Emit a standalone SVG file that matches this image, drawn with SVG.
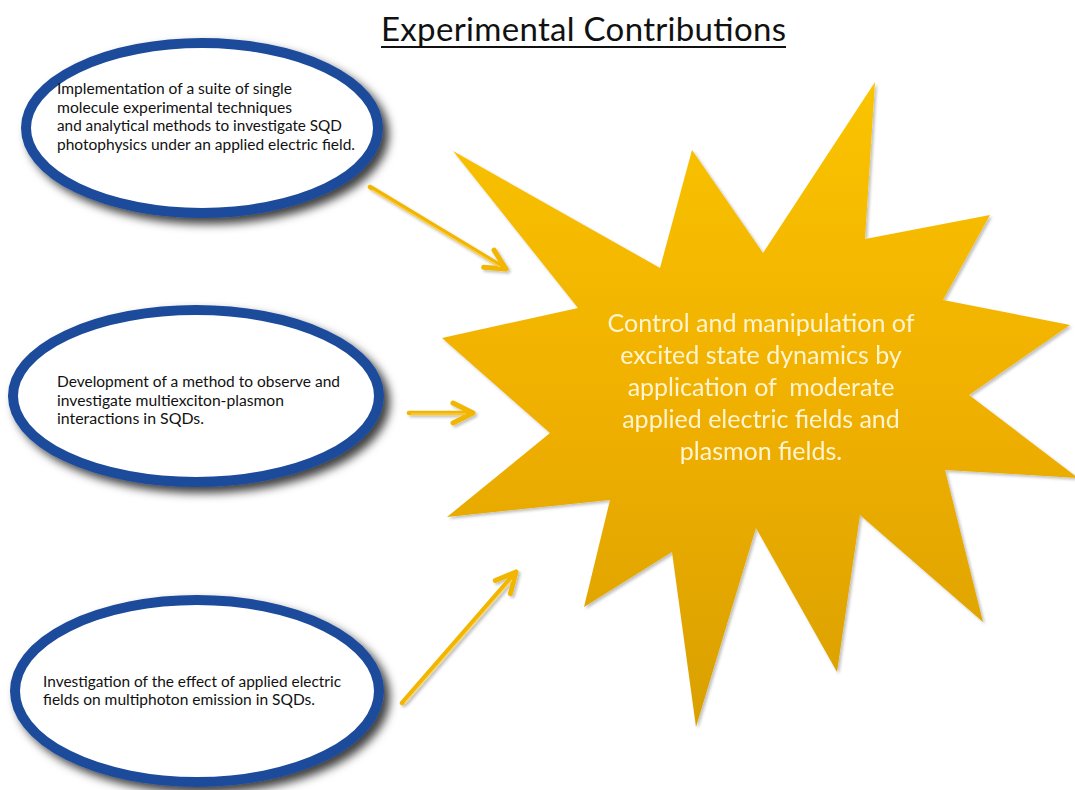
<svg xmlns="http://www.w3.org/2000/svg" width="1075" height="790" viewBox="0 0 1075 790">
  <defs>
    <linearGradient id="burstFill" x1="0" y1="0" x2="0" y2="1">
      <stop offset="0" stop-color="#FAC400"/>
      <stop offset="0.5" stop-color="#F0B000"/>
      <stop offset="1" stop-color="#D9A000"/>
    </linearGradient>
    <filter id="ovalShadow" x="-15%" y="-15%" width="135%" height="140%">
      <feGaussianBlur in="SourceAlpha" stdDeviation="5"/>
      <feOffset dx="6" dy="6" result="blur"/>
      <feFlood flood-color="#000" flood-opacity="0.75"/>
      <feComposite in2="blur" operator="in"/>
      <feMerge><feMergeNode/><feMergeNode in="SourceGraphic"/></feMerge>
    </filter>
    <filter id="softShadow" x="-10%" y="-10%" width="125%" height="125%">
      <feGaussianBlur in="SourceAlpha" stdDeviation="1.5"/>
      <feOffset dx="2" dy="2" result="blur"/>
      <feFlood flood-color="#000" flood-opacity="0.25"/>
      <feComposite in2="blur" operator="in"/>
      <feMerge><feMergeNode/><feMergeNode in="SourceGraphic"/></feMerge>
    </filter>
    <marker id="chevron" markerUnits="userSpaceOnUse" viewBox="-26 -14 30 28" refX="0" refY="0" markerWidth="30" markerHeight="28" orient="auto" overflow="visible">
      <path d="M -20,-10 L 0,0 L -20,10" fill="none" stroke="#F2B600" stroke-width="5" stroke-linecap="round" stroke-linejoin="round"/>
    </marker>
    <style>
      .oval { fill: #FFFFFF; stroke: #1E4B9B; stroke-width: 10; }
      .otext { font-family: Lato, "Open Sans", "Liberation Sans", sans-serif; font-size: 14.5px; fill: #111111; }
      .shaft { fill: none; stroke: #F2B600; stroke-width: 4.5; stroke-linecap: round; }
      .shine { fill: none; stroke: #F9D46A; stroke-width: 1.2; }
      .btext { font-family: Lato, "Open Sans", "Liberation Sans", sans-serif; font-size: 25px; fill: #FFF4D2; text-anchor: middle; }
      .title { font-family: Lato, "Open Sans", "Liberation Sans", sans-serif; font-size: 33px; fill: #111111; text-anchor: middle; }
    </style>
  </defs>

  <rect width="1075" height="790" fill="#FFFFFF"/>

  <!-- heading -->
  <g id="title">
    <text class="title" x="583.5" y="41" textLength="405" lengthAdjust="spacing">Experimental Contributions</text>
    <line x1="381" y1="47" x2="786" y2="47" stroke="#111111" stroke-width="2"/>
  </g>

  <!-- central burst -->
  <g id="burst" filter="url(#softShadow)">
    <polygon fill="url(#burstFill)" points="875,82 865,239 990,215 943,300 1070,325 969,395 1078,478 945,470 983,622 860,515 837,672 756,528 696,727 672,552 584,607 610,500 447,517 550,433 442,338 578,308 453,151 660,268 692,150 763,253"/>
    <text class="btext" x="761" y="332">Control and manipulation of</text>
    <text class="btext" x="761" y="364">excited state dynamics by</text>
    <text class="btext" x="761" y="396" xml:space="preserve">application of  moderate</text>
    <text class="btext" x="761" y="428">applied electric fields and</text>
    <text class="btext" x="761" y="460">plasmon fields.</text>
  </g>

  <!-- contribution ovals -->
  <g id="oval-techniques">
    <ellipse class="oval" cx="202" cy="128" rx="176" ry="85" filter="url(#ovalShadow)"/>
    <text class="otext" x="57" y="94" textLength="235" lengthAdjust="spacingAndGlyphs">Implementation of a suite of single</text>
    <text class="otext" x="57" y="112.5" textLength="235" lengthAdjust="spacingAndGlyphs">molecule experimental techniques</text>
    <text class="otext" x="57" y="131" textLength="285" lengthAdjust="spacingAndGlyphs">and analytical methods to investigate SQD</text>
    <text class="otext" x="57" y="149.5" textLength="298" lengthAdjust="spacingAndGlyphs">photophysics under an applied electric field.</text>
  </g>

  <g id="oval-plasmon">
    <ellipse class="oval" cx="196" cy="396" rx="183" ry="86" filter="url(#ovalShadow)"/>
    <text class="otext" x="57" y="387" textLength="283" lengthAdjust="spacingAndGlyphs">Development of a method to observe and</text>
    <text class="otext" x="57" y="405.5" textLength="227" lengthAdjust="spacingAndGlyphs">investigate multiexciton-plasmon</text>
    <text class="otext" x="57" y="424" textLength="147" lengthAdjust="spacingAndGlyphs">interactions in SQDs.</text>
  </g>

  <g id="oval-multiphoton">
    <ellipse class="oval" cx="197" cy="691" rx="182" ry="91" filter="url(#ovalShadow)"/>
    <text class="otext" x="43" y="686.5" textLength="298" lengthAdjust="spacingAndGlyphs">Investigation of the effect of applied electric</text>
    <text class="otext" x="43" y="704.5" textLength="272" lengthAdjust="spacingAndGlyphs">fields on multiphoton emission in SQDs.</text>
  </g>

  <!-- connectors -->
  <g id="connectors" filter="url(#softShadow)">
    <line class="shaft" x1="370" y1="187" x2="506" y2="269" marker-end="url(#chevron)"/>
    <line class="shine" x1="372" y1="190" x2="500" y2="267"/>
    <line class="shaft" x1="409" y1="413" x2="473" y2="413" marker-end="url(#chevron)"/>
    <line class="shine" x1="411" y1="414" x2="466" y2="414"/>
    <line class="shaft" x1="402" y1="703" x2="516" y2="572" marker-end="url(#chevron)"/>
    <line class="shine" x1="405" y1="703" x2="512" y2="580"/>
  </g>
</svg>
